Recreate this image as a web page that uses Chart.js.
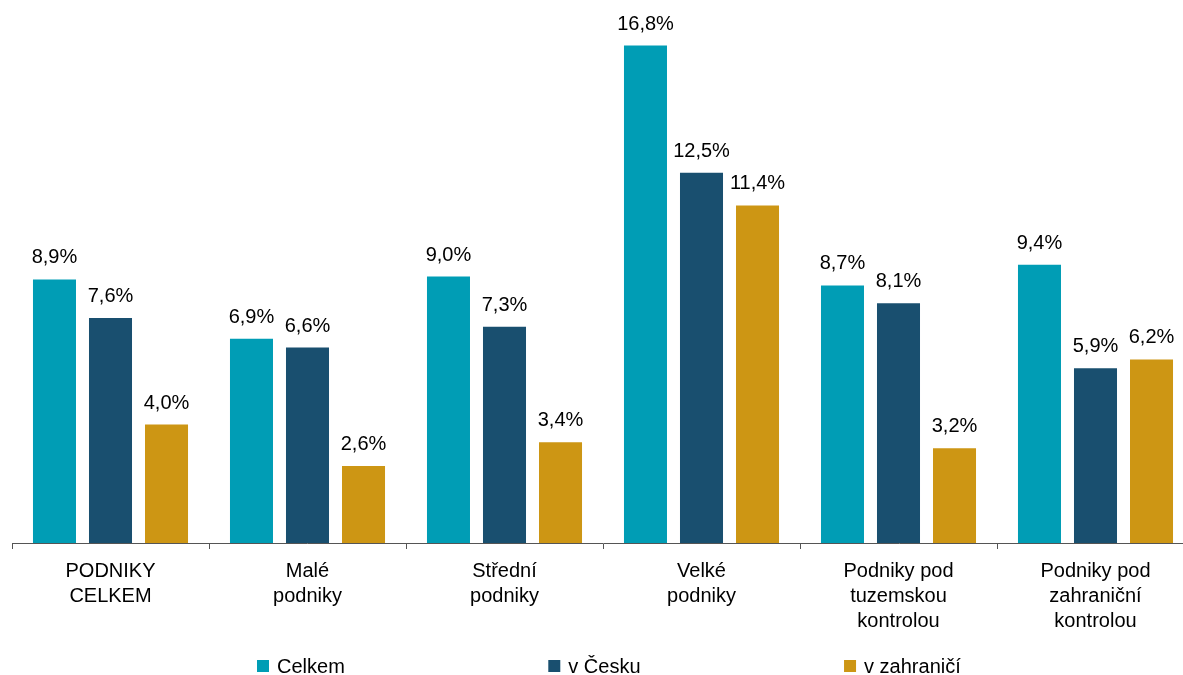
<!DOCTYPE html>
<html>
<head>
<meta charset="utf-8">
<script src="https://cdn.jsdelivr.net/npm/chart.js@4/dist/chart.umd.min.js"></script>
<style>
  body { margin: 0; background: #fff; overflow: hidden; }
</style>
</head>
<body>
<canvas id="chart" width="1200" height="675"></canvas>
<script>
// categories (multi-line tick labels)
const categories = [
  ['PODNIKY', 'CELKEM'],
  ['Malé', 'podniky'],
  ['Střední', 'podniky'],
  ['Velké', 'podniky'],
  ['Podniky pod', 'tuzemskou', 'kontrolou'],
  ['Podniky pod', 'zahraniční', 'kontrolou']
];
const seriesNames = ['Celkem', 'v Česku', 'v zahraničí'];
const celkem = [8.9, 6.9, 9.0, 16.8, 8.7, 9.4];
const vCesku = [7.6, 6.6, 7.3, 12.5, 8.1, 5.9];
const vZahranici = [4.0, 2.6, 3.4, 11.4, 3.2, 6.2];
const colors = ['#009DB5', '#194F6F', '#CD9614'];

const FONT = '"Liberation Sans", Arial, sans-serif';

function fmt(v) {
  return v.toFixed(1).replace('.', ',') + '%';
}

// value labels above bars
const valueLabels = {
  id: 'valueLabels',
  afterDatasetsDraw(chart) {
    const ctx = chart.ctx;
    ctx.save();
    ctx.font = '20px ' + FONT;
    ctx.fillStyle = '#000';
    ctx.textAlign = 'center';
    ctx.textBaseline = 'alphabetic';
    chart.data.datasets.forEach((ds, i) => {
      chart.getDatasetMeta(i).data.forEach((bar, j) => {
        ctx.fillText(fmt(ds.data[j]), bar.x, bar.y - 16);
      });
    });
    ctx.restore();
  }
};

// legend drawn by hand so the wide spacing matches
const customLegend = {
  id: 'customLegend',
  afterDraw(chart) {
    const ctx = chart.ctx;
    ctx.save();
    ctx.font = '20px ' + FONT;
    ctx.textBaseline = 'alphabetic';
    let x = 257;
    const gap = 203.5;
    chart.data.datasets.forEach((ds) => {
      ctx.fillStyle = ds.backgroundColor;
      ctx.fillRect(x, 660, 12, 12);
      ctx.fillStyle = '#000';
      ctx.fillText(ds.label, x + 20, 673);
      x += 20 + ctx.measureText(ds.label).width + gap;
    });
    ctx.restore();
  }
};

new Chart(document.getElementById('chart'), {
  type: 'bar',
  data: {
    labels: categories,
    datasets: [
      { label: seriesNames[0], data: celkem, backgroundColor: colors[0] },
      { label: seriesNames[1], data: vCesku, backgroundColor: colors[1] },
      { label: seriesNames[2], data: vZahranici, backgroundColor: colors[2] }
    ]
  },
  options: {
    responsive: false,
    animation: false,
    categoryPercentage: 0.853,
    barPercentage: 0.768,
    layout: { padding: { top: 10, left: 12, right: 6, bottom: 31 } },
    plugins: {
      legend: { display: false },
      tooltip: { enabled: false }
    },
    scales: {
      x: {
        grid: {
          offset: true,
          drawOnChartArea: false,
          drawTicks: true,
          tickLength: 6,
          color: '#555'
        },
        border: { display: true, color: '#555', width: 1 },
        ticks: {
          color: '#000',
          font: { family: FONT, size: 20, lineHeight: 1.25 },
          padding: 10,
          maxRotation: 0
        }
      },
      y: {
        display: false,
        min: 0,
        max: 18
      }
    }
  },
  plugins: [valueLabels, customLegend]
});
</script>
</body>
</html>
